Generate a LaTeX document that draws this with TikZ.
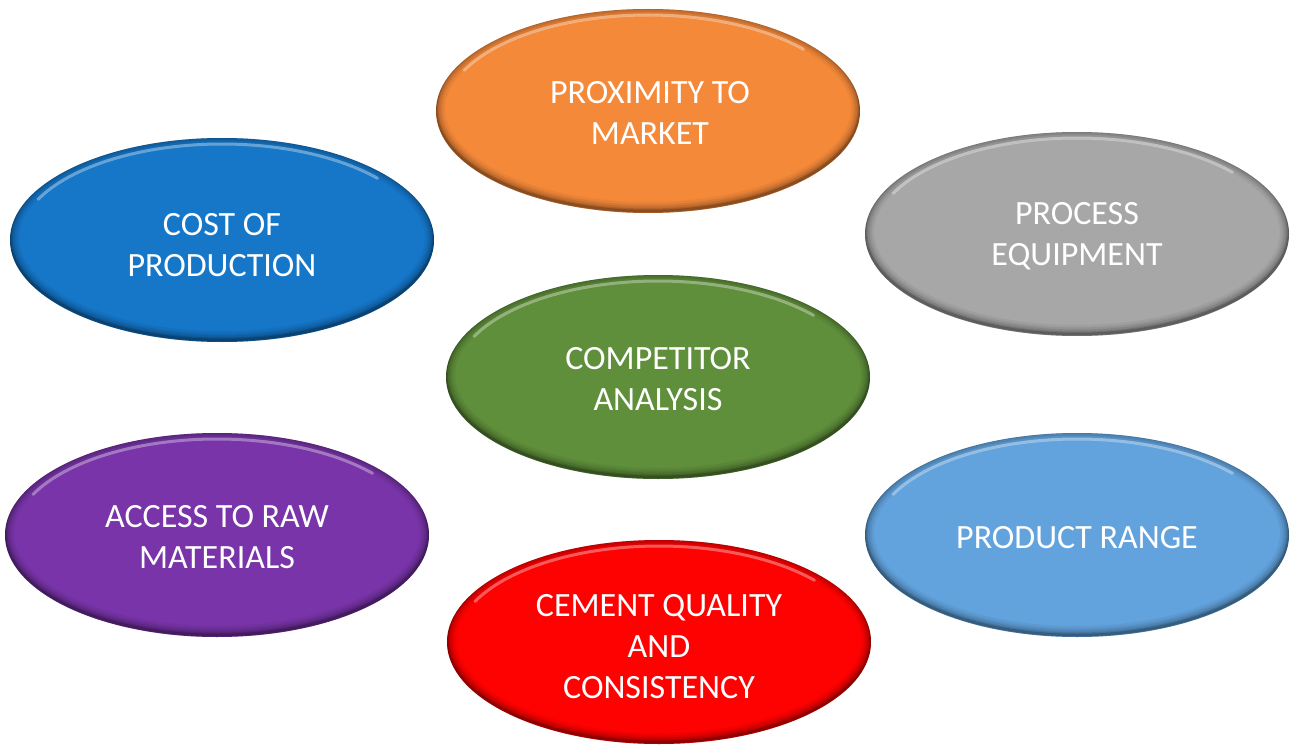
\documentclass[tikz,border=0pt]{standalone}
\usepackage{fontspec}
\setmainfont{Carlito}
\usetikzlibrary{shapes.geometric,calc}
\definecolor{cBlue}{HTML}{1677C9}
\definecolor{cOrange}{HTML}{F5893A}
\definecolor{cGray}{HTML}{A7A7A7}
\definecolor{cGreen}{HTML}{5F8F3B}
\definecolor{cPurple}{HTML}{7834A8}
\definecolor{cRed}{HTML}{FE0202}
\definecolor{cLight}{HTML}{62A3DE}
\tikzset{
  oval/.style={ellipse, minimum width=424pt, minimum height=204pt, inner sep=0pt,
    fill=#1, text=white, align=center,
    font=\fontsize{34}{41}\selectfont,
    path picture={
      \foreach \w/\o in {18/0.05, 13/0.07, 9/0.09, 5/0.13, 2.5/0.18}{
        \draw[black, opacity=\o, line width=\w pt]
          let \p1=($(path picture bounding box.north east)-(path picture bounding box.center)$) in
          ($(path picture bounding box.center)+(0,-2)$) ellipse [x radius=\x1, y radius=\y1];
      }
      \draw[white, opacity=0.35, line width=3pt, line cap=round]
          let \p1=($(path picture bounding box.north east)-(path picture bounding box.center)$) in
          ($(path picture bounding box.center)+(155:{\x1-9pt} and {\y1-6pt})$)
          arc[start angle=155, end angle=40, x radius=\x1-9pt, y radius=\y1-6pt];
    }},
  lbl/.style={text=white, align=center, font=\fontsize{34}{41}\selectfont}
}
\begin{document}
\begin{tikzpicture}[x=1pt,y=-1pt]
\useasboundingbox[fill=white] (0,0) rectangle (1290,746);
\node[oval=cOrange] (prox) at (648,111) {};
\node[oval=cBlue] (cost) at (222,240) {};
\node[oval=cGray] (proc) at (1077,234) {};
\node[oval=cGreen] (comp) at (658,377) {};
\node[oval=cPurple] (raw) at (217,535) {};
\node[oval=cLight] (range) at (1077,535) {};
\node[oval=cRed] (cem) at (659,642) {};
\node[lbl] (proxT) at ($(prox)+(2,2)$) {PROXIMITY TO\\MARKET};
\node[lbl] (costT) at ($(cost)+(0,5)$) {COST OF\\PRODUCTION};
\node[lbl] (procT) at ($(proc)+(0,2)$) {PROCESS\\EQUIPMENT};
\node[lbl] (compT) at ($(comp)+(0,2)$) {COMPETITOR\\ANALYSIS};
\node[lbl] (rawT) at ($(raw)+(0,2)$) {ACCESS TO RAW\\MATERIALS};
\node[lbl] (rangeT) at ($(range)+(0,3)$) {PRODUCT RANGE};
\node[lbl] (cemT) at ($(cem)+(0,5)$) {CEMENT QUALITY\\AND\\CONSISTENCY};
\end{tikzpicture}
\end{document}
